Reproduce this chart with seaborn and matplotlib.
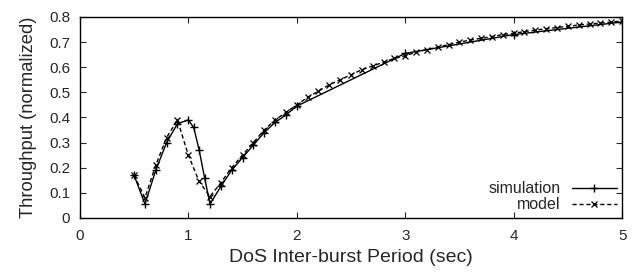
import matplotlib
matplotlib.use("Agg")
import matplotlib.pyplot as plt
import seaborn as sns
import pandas as pd

sim_x = [0.5, 0.6, 0.7, 0.8, 0.9, 1.0, 1.05, 1.1, 1.15, 1.2, 1.3, 1.4, 1.5, 1.6,
         1.7, 1.8, 1.9, 2.0, 3.0, 4.0, 5.0]
sim_y = [0.17, 0.055, 0.19, 0.30, 0.375, 0.39, 0.36, 0.27, 0.16, 0.055, 0.125, 0.19,
         0.24, 0.29, 0.34, 0.38, 0.41, 0.445, 0.655, 0.73, 0.78]

model_x = [0.5, 0.6, 0.7, 0.8, 0.9, 1.0, 1.1, 1.2, 1.3, 1.4, 1.5, 1.6, 1.7, 1.8, 1.9,
           2.0, 2.1, 2.2, 2.3, 2.4, 2.5, 2.6, 2.7, 2.8, 2.9, 3.0, 3.1, 3.2, 3.3, 3.4,
           3.5, 3.6, 3.7, 3.8, 3.9, 4.0, 4.1, 4.2, 4.3, 4.4, 4.5, 4.6, 4.7, 4.8, 4.9, 5.0]
model_y = [0.17, 0.08, 0.21, 0.32, 0.39, 0.25, 0.145, 0.085, 0.14, 0.20, 0.25, 0.30,
           0.35, 0.39, 0.42, 0.45, 0.48, 0.505, 0.53, 0.55, 0.57, 0.59, 0.605, 0.62,
           0.635, 0.645, 0.66, 0.67, 0.68, 0.69, 0.70, 0.708, 0.715, 0.722, 0.73,
           0.735, 0.742, 0.748, 0.753, 0.758, 0.763, 0.768, 0.772, 0.776, 0.78, 0.784]

xticks = [0, 1, 2, 3, 4, 5]
yticks = [0, 0.1, 0.2, 0.3, 0.4, 0.5, 0.6, 0.7, 0.8]

sns.set_style("ticks")
plt.rcParams['font.family'] = ['Liberation Sans', 'DejaVu Sans']

fig = plt.figure(figsize=(6.44, 2.72), dpi=100)
ax = fig.add_axes([0.124, 0.199, 0.842, 0.7385])

sim_df = pd.DataFrame({"x": sim_x, "y": sim_y})
mod_df = pd.DataFrame({"x": model_x, "y": model_y})

sns.lineplot(data=sim_df, x="x", y="y", ax=ax, color="black", linewidth=1.0,
             marker="+", markersize=6, markeredgewidth=1.0, markeredgecolor="black",
             label="simulation", sort=False)
sns.lineplot(data=mod_df, x="x", y="y", ax=ax, color="black", linewidth=1.0,
             linestyle=(0, (3, 2)), marker="x", markersize=5, markeredgewidth=0.9,
             markeredgecolor="black", label="model", sort=False)

ax.set_xlim(0, 5)
ax.set_ylim(0, 0.8)
ax.set_xticks(xticks)
ax.set_xticklabels([str(t) for t in xticks])
ax.set_yticks(yticks)
ax.set_yticklabels(["0" if t == 0 else f"{t:.1f}" for t in yticks])
ax.tick_params(direction="in", top=True, right=True, labelsize=11, length=4, width=0.8)
ax.tick_params(axis="x", pad=8)
ax.tick_params(axis="y", pad=7)
for s in ax.spines.values():
    s.set_linewidth(1.0)
    s.set_color("black")
ax.set_xlabel("DoS Inter-burst Period (sec)", fontsize=14, labelpad=4)
ax.set_ylabel("Throughput (normalized)", fontsize=13.2, labelpad=9)

leg = ax.legend(loc="lower right", frameon=False, markerfirst=False, fontsize=11.5,
                handlelength=2.8, handletextpad=0.7, borderaxespad=0.05,
                labelspacing=0.05, borderpad=0.3)
for t in leg.get_texts():
    t.set_ha("right")

fig.savefig("out.png", dpi=100)
